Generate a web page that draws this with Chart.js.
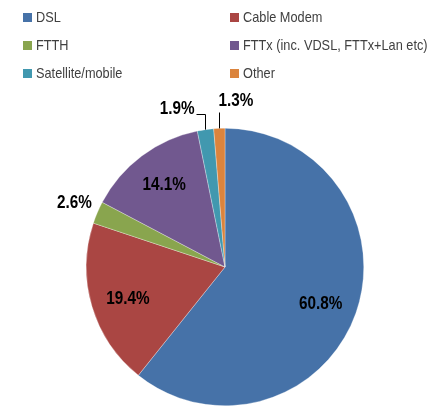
<!DOCTYPE html>
<html><head><meta charset="utf-8">
<script src="https://cdn.jsdelivr.net/npm/chart.js@4"></script>
<style>html,body{margin:0;padding:0;background:#fff}#wrap{width:441px;height:406px}</style>
</head><body><div id="wrap"><canvas id="c" width="441" height="406"></canvas></div>
<script>
const categories = ["DSL","Cable Modem","FTTH","FTTx (inc. VDSL, FTTx+Lan etc)","Satellite/mobile","Other"];
const shares = [60.8, 19.4, 2.6, 14.1, 1.9, 1.3];
const valueLabels = ["60.8%","19.4%","2.6%","14.1%","1.9%","1.3%"];
const colors = ["#4672A8","#AA4643","#89A54E","#71588F","#4198AF","#DB843D"];
const labelModes = ["inside","inside","outside","inside","leaderLeft","leaderRight"];

const LABEL_FONT = "bold 18px 'Liberation Sans', Arial, sans-serif";
const LEGEND_FONT = "15px 'Liberation Sans', Arial, sans-serif";
const SQUEEZE = 0.85;

function narrowText(ctx, text, x, y, align) {
  const w = ctx.measureText(text).width * SQUEEZE;
  let left = x;
  if (align === 'center') left = x - w / 2;
  else if (align === 'right') left = x - w;
  ctx.save();
  ctx.textAlign = 'left';
  ctx.translate(left, y);
  ctx.scale(SQUEEZE, 1);
  ctx.fillText(text, 0, 0);
  ctx.restore();
}

const legendPlugin = {
  id: 'twoColLegend',
  afterDraw(chart) {
    const ctx = chart.ctx;
    ctx.save();
    ctx.font = LEGEND_FONT;
    ctx.textBaseline = 'middle';
    const colX = [23, 230], rowY = [17, 45, 73];
    categories.forEach((c, i) => {
      const x = colX[i % 2], y = rowY[Math.floor(i / 2)];
      ctx.fillStyle = colors[i];
      ctx.fillRect(x, y - 4, 9, 9);
      ctx.fillStyle = '#404040';
      narrowText(ctx, c, x + 13, y + 1, 'left');
    });
    ctx.restore();
  }
};

const labelPlugin = {
  id: 'sliceLabels',
  afterDatasetsDraw(chart) {
    const ctx = chart.ctx;
    const meta = chart.getDatasetMeta(0);
    ctx.save();
    ctx.font = LABEL_FONT;
    ctx.fillStyle = '#000';
    ctx.strokeStyle = '#000';
    ctx.lineWidth = 1;
    ctx.textBaseline = 'middle';
    meta.data.forEach((arc, i) => {
      const p = arc.getProps(['x','y','startAngle','endAngle','outerRadius'], true);
      const mid = (p.startAngle + p.endAngle) / 2;
      const r = p.outerRadius;
      const mode = labelModes[i];
      if (mode === 'inside') {
        narrowText(ctx, valueLabels[i], p.x + Math.cos(mid) * r * 0.73, p.y + Math.sin(mid) * r * 0.76 + 2, 'center');
      } else if (mode === 'outside') {
        narrowText(ctx, valueLabels[i], p.x + Math.cos(mid) * (r + 25), p.y + Math.sin(mid) * (r + 25), 'center');
      } else {
        const ex = p.x + Math.cos(mid) * r, ey = p.y + Math.sin(mid) * r;
        const topY = Math.round(ey - 16) + 0.5;
        const lx = Math.round(ex) + 0.5;
        ctx.beginPath();
        if (mode === 'leaderLeft') {
          ctx.moveTo(lx, ey);
          ctx.lineTo(lx, topY);
          ctx.lineTo(lx - 9, topY);
          ctx.stroke();
          narrowText(ctx, valueLabels[i], lx - 11, topY - 5, 'right');
        } else {
          ctx.moveTo(lx, ey);
          ctx.lineTo(lx, topY);
          ctx.stroke();
          narrowText(ctx, valueLabels[i], lx - 1, topY - 11, 'left');
        }
      }
    });
    ctx.restore();
  }
};

new Chart(document.getElementById('c'), {
  type: 'pie',
  data: {
    labels: categories,
    datasets: [{
      data: shares,
      backgroundColor: colors,
      borderColor: 'rgba(255,255,255,0.6)',
      borderWidth: 0.5
    }]
  },
  options: {
    responsive: false,
    animation: false,
    layout: { padding: { left: 86, right: 77, top: 128, bottom: 0 } },
    plugins: { legend: { display: false }, tooltip: { enabled: false } }
  },
  plugins: [legendPlugin, labelPlugin]
});
</script>
</body></html>
